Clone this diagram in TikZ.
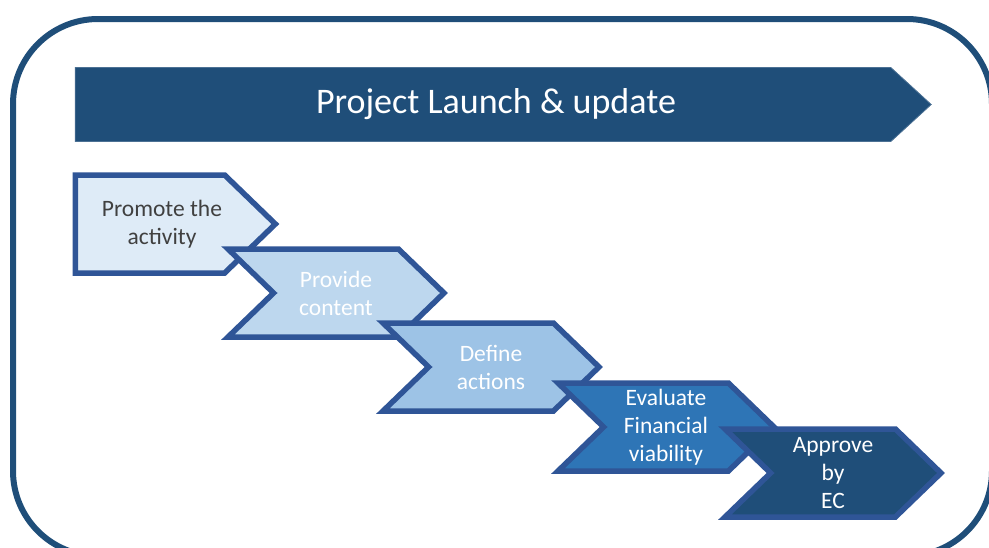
\documentclass[tikz,border=0pt]{standalone}
\usepackage{fontspec}
\setmainfont{Carlito}
\usetikzlibrary{shapes.symbols}
\definecolor{navy}{HTML}{1F4E79}
\definecolor{edgeblue}{HTML}{2F5597}
\definecolor{fillA}{HTML}{DEEBF7}
\definecolor{fillB}{HTML}{BDD7EE}
\definecolor{fillC}{HTML}{9DC3E6}
\definecolor{fillD}{HTML}{2E75B6}
\definecolor{textgray}{HTML}{404040}
\tikzstyle{frame} = [draw=navy, line width=6pt, rounded corners=85pt]
\tikzstyle{banner} = [signal, signal to=east, signal from=nowhere, signal pointer angle=85, fill=navy, draw=navy!80!white, line width=0.8pt, minimum width=856pt, minimum height=74pt, text=white, font=\fontsize{36}{42}\selectfont]
\tikzstyle{chevron} = [signal, signal to=east, signal from=west, signal pointer angle=88, draw=edgeblue, line width=5.5pt, minimum width=216pt, minimum height=88pt, inner sep=0pt, align=center, text=white, font=\fontsize{23.5}{28}\selectfont]
\tikzstyle{firststep} = [chevron, signal from=nowhere, minimum width=200pt, minimum height=98pt, text=textgray]

\begin{document}
\begin{tikzpicture}[x=1pt, y=-1pt]
	\useasboundingbox (0,0) rectangle (989,547);
	\clip (0,0) rectangle (989,547);

	\draw [frame] (13,19) rectangle (992,556);

	\node (launch) [banner] at (483,104.5) {\hspace*{26pt}Project Launch \& update};

	% the five steps, each one laid over the last
	\node (promote) [firststep, fill=fillA] at (150,224) {\hspace*{24pt}Promote the\\\hspace*{24pt}activity};
	\node (content) [chevron, fill=fillB] at (336,293) {Provide\\content};
	\node (actions) [chevron, fill=fillC] at (491,367) {Define\\actions};
	\node (viability) [chevron, fill=fillD] at (666,427) {Evaluate\\Financial\\viability};
	\node (approve) [chevron, fill=navy] at (833,473) {Approve\\by\\EC};
\end{tikzpicture}
\end{document}
